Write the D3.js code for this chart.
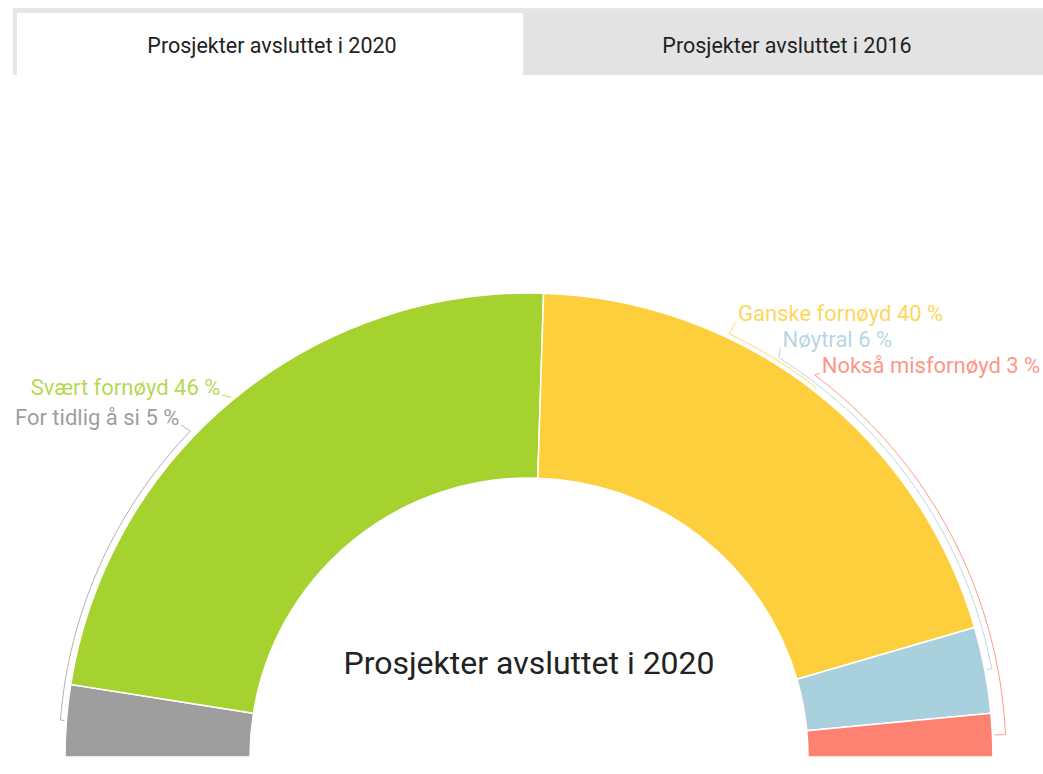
<!DOCTYPE html>
<html>
<head>
<meta charset="utf-8">
<script src="https://cdn.jsdelivr.net/npm/d3@7"></script>
<style>
  html, body { margin: 0; padding: 0; background: #fff; }
  svg { display: block; font-family: Roboto, "Noto Sans", sans-serif; }
</style>
</head>
<body>
<svg id="chart" width="1043" height="774"></svg>
<script>
// ---- data ----
const categories = ["For tidlig å si", "Svært fornøyd", "Ganske fornøyd", "Nøytral", "Nokså misfornøyd"];
const values = [5, 46, 40, 6, 3];
const colors = ["#9e9e9e", "#a5d22f", "#fecf3c", "#a9d0dd", "#fd8271"];
const tabLabels = ["Prosjekter avsluttet i 2020", "Prosjekter avsluttet i 2016"];
const centerTitle = "Prosjekter avsluttet i 2020";

// ---- layout ----
const W = 1043, H = 774;
const cx = 529, cy = 757, R = 464, r0 = 279;
// label layout per slice: label angle (deg from left), connector radius, side, text offset
const labelLayout = [
  { ang: 43.9, rc: 470, side: "left",  dx: -11, dy: -14 },
  { ang: null, rc: 467, side: "left",  dx: -11, dy: -10 },
  { ang: 115.3, rc: 468, side: "right", dx: 9,  dy: -20 },
  { ang: 122.0, rc: 471, side: "right", dx: 4,  dy: -18 },
  { ang: 126.8, rc: 477, side: "right", dx: 7,  dy: -10 }
];

const svg = d3.select("#chart");

// ---- tabs ----
const tabs = svg.append("g");
tabs.append("rect").attr("x", 13).attr("y", 8).attr("width", W - 13).attr("height", 67).attr("fill", "#e6e6e6");
tabs.append("rect").attr("x", 17).attr("y", 13).attr("width", 506).attr("height", 62).attr("fill", "#ffffff");
tabs.append("rect").attr("x", 525).attr("y", 13).attr("width", W - 525).attr("height", 61).attr("fill", "#e3e3e3");
const tabCenters = [272, 787];
tabs.selectAll("text.tab").data(tabLabels).join("text")
  .attr("class", "tab")
  .attr("x", (d, i) => tabCenters[i])
  .attr("y", 45)
  .attr("text-anchor", "middle")
  .attr("dominant-baseline", "central")
  .attr("font-size", 21.5)
  .attr("fill", "#222")
  .text(d => d);

// ---- pie ----
const pie = d3.pie().sort(null).value(d => d.v)
  .startAngle(-Math.PI / 2).endAngle(Math.PI / 2);
const data = categories.map((c, i) => ({ c, v: values[i], col: colors[i], i }));
const arcs = pie(data);
const arcGen = d3.arc().innerRadius(r0).outerRadius(R);

const g = svg.append("g").attr("transform", `translate(${cx},${cy})`);
g.selectAll("path.slice").data(arcs).join("path")
  .attr("class", "slice")
  .attr("d", arcGen)
  .attr("fill", d => d.data.col)
  .attr("stroke", "#ffffff")
  .attr("stroke-width", 1.5);

// helpers: angle from left (deg) -> d3 angle
const toA = deg => (deg - 90) * Math.PI / 180;
const pt = (a, r) => [r * Math.sin(a), -r * Math.cos(a)];

// ---- labels & connectors ----
const line = d3.line();
arcs.forEach((d, i) => {
  const L = labelLayout[i];
  const mid = (d.startAngle + d.endAngle) / 2;
  const col = d.data.col;
  let pts = [];
  let P;
  if (L.ang === null) {
    P = pt(mid, L.rc);
    pts.push(P);
  } else {
    const aL = toA(L.ang);
    P = pt(aL, L.rc);
    const n = 60;
    for (let k = 0; k <= n; k++) {
      const a = aL + (mid - aL) * k / n;
      pts.push(pt(a, L.rc));
    }
    pts.push(pt(mid, R + 2));
  }
  const tx = P[0] + L.dx, ty = P[1] + L.dy;
  const startPt = [tx + (L.side === "left" ? 2 : -2), ty + 8];
  pts.unshift(startPt);
  g.append("path")
    .attr("d", line(pts))
    .attr("fill", "none")
    .attr("stroke", col)
    .attr("stroke-opacity", 0.8)
    .attr("stroke-width", 1);
  g.append("text")
    .attr("x", tx)
    .attr("y", ty)
    .attr("text-anchor", L.side === "left" ? "end" : "start")
    .attr("dominant-baseline", "central")
    .attr("font-size", 22)
    .attr("fill", col)
    .attr("fill-opacity", i === 0 ? 1 : 0.85)
    .text(`${d.data.c} ${d.data.v} %`);
});

// ---- center title ----
g.append("text")
  .attr("x", 0)
  .attr("y", -94)
  .attr("text-anchor", "middle")
  .attr("dominant-baseline", "central")
  .attr("font-size", 32)
  .attr("fill", "#222")
  .text(centerTitle);
</script>
</body>
</html>
